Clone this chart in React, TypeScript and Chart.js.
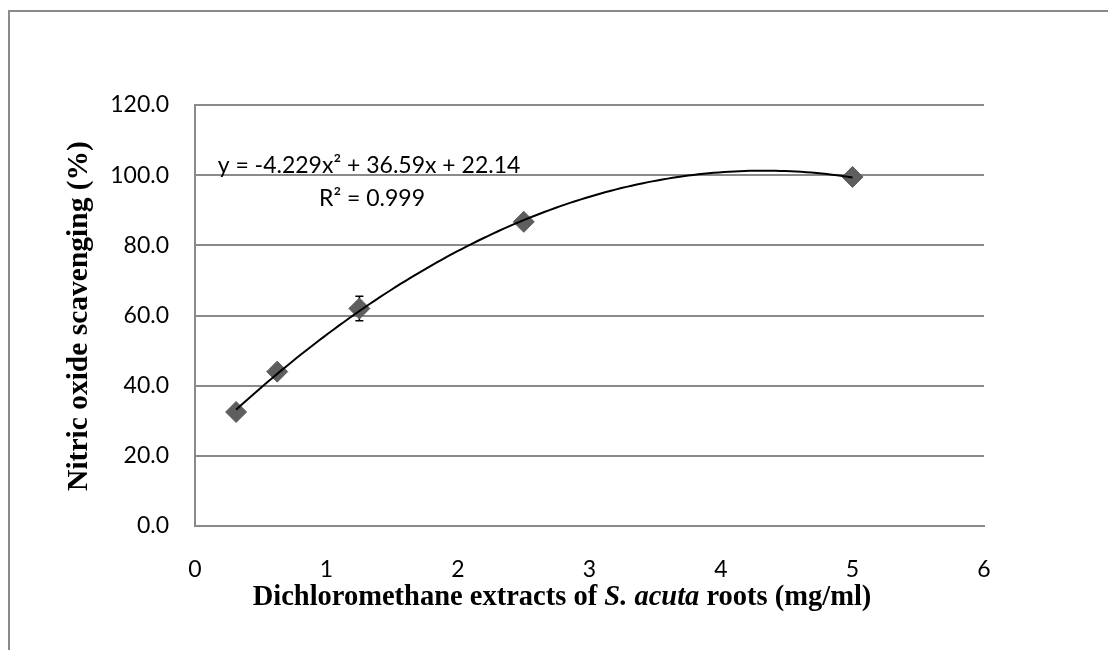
import React, { useEffect, useRef } from "react";
import { Chart, registerables } from "chart.js";

Chart.register(...registerables);

// Data
const concentrations = [0.3125, 0.625, 1.25, 2.5, 5];
const scavenging = [32.5, 44.0, 62.0, 86.7, 99.5];
const errors = [0.6, 0.8, 3.5, 0.7, 0.5];

// Polynomial trendline as printed on the chart
const trendA = -4.229;
const trendB = 36.59;
const trendC = 22.14;
const equationLabel = "y = -4.229x² + 36.59x + 22.14";
const r2Label = "R² = 0.999";

const xTicks = [0, 1, 2, 3, 4, 5, 6];
const yTicks = [0, 20, 40, 60, 80, 100, 120];

const xTitleParts = [
  { text: "Dichloromethane extracts of ", italic: false },
  { text: "S. acuta", italic: true },
  { text: " roots (mg/ml)", italic: false },
];
const yTitle = "Nitric oxide scavenging (%)";

const GRID = "#8a8a8a";
const TICK_FONT = "Lato, 'Open Sans', sans-serif";
const TITLE_FONT = "'Liberation Serif', 'Times New Roman', serif";

function trendPoints() {
  const pts: { x: number; y: number }[] = [];
  const x0 = concentrations[0];
  const x1 = concentrations[concentrations.length - 1];
  const n = 120;
  for (let i = 0; i <= n; i++) {
    const x = x0 + ((x1 - x0) * i) / n;
    pts.push({ x, y: trendA * x * x + trendB * x + trendC });
  }
  return pts;
}

const customPlugin = {
  id: "custom",
  beforeDraw(chart: any) {
    const ctx = chart.ctx;
    ctx.save();
    ctx.fillStyle = "#ffffff";
    ctx.fillRect(0, 0, chart.width, chart.height);
    ctx.strokeStyle = GRID;
    ctx.lineWidth = 2;
    ctx.beginPath();
    ctx.moveTo(9, chart.height + 5);
    ctx.lineTo(9, 11);
    ctx.lineTo(chart.width + 5, 11);
    ctx.stroke();
    ctx.restore();
  },
  beforeDatasetsDraw(chart: any) {
    const ctx = chart.ctx;
    const xs = chart.scales.x;
    const ys = chart.scales.y;
    ctx.save();
    ctx.strokeStyle = "#000000";
    ctx.lineWidth = 1.5;
    concentrations.forEach((c, i) => {
      const px = xs.getPixelForValue(c);
      const top = ys.getPixelForValue(scavenging[i] + errors[i]);
      const bot = ys.getPixelForValue(scavenging[i] - errors[i]);
      ctx.beginPath();
      ctx.moveTo(px, top);
      ctx.lineTo(px, bot);
      ctx.moveTo(px - 4, top);
      ctx.lineTo(px + 4, top);
      ctx.moveTo(px - 4, bot);
      ctx.lineTo(px + 4, bot);
      ctx.stroke();
    });
    ctx.restore();
  },
  afterDraw(chart: any) {
    const ctx = chart.ctx;
    ctx.save();
    ctx.fillStyle = "#000000";
    // trendline equation
    ctx.font = `23px ${TICK_FONT}`;
    ctx.textAlign = "center";
    ctx.textBaseline = "middle";
    ctx.fillText(equationLabel, 369, 166);
    ctx.fillText(r2Label, 372, 199);

    // x title with mixed styles
    ctx.textAlign = "left";
    const fonts = xTitleParts.map(
      (p) => `${p.italic ? "italic " : ""}bold 28.5px ${TITLE_FONT}`
    );
    let total = 0;
    const widths = xTitleParts.map((p, i) => {
      ctx.font = fonts[i];
      const w = ctx.measureText(p.text).width;
      total += w;
      return w;
    });
    let x = 562 - total / 2;
    xTitleParts.forEach((p, i) => {
      ctx.font = fonts[i];
      ctx.fillText(p.text, x, 598);
      x += widths[i];
    });

    // y title
    ctx.translate(79, 316);
    ctx.rotate(-Math.PI / 2);
    ctx.textAlign = "center";
    ctx.font = `bold 29.5px ${TITLE_FONT}`;
    ctx.fillText(yTitle, 0, 0);
    ctx.restore();
  },
};

export default function App() {
  const ref = useRef<HTMLCanvasElement | null>(null);

  useEffect(() => {
    if (!ref.current) return;
    const chart = new Chart(ref.current, {
      type: "scatter",
      data: {
        datasets: [
          {
            label: "Trend",
            data: trendPoints(),
            showLine: true,
            borderColor: "#000000",
            borderWidth: 2,
            pointRadius: 0,
            tension: 0,
            order: 1,
          },
          {
            label: "NO scavenging",
            data: concentrations.map((c, i) => ({ x: c, y: scavenging[i] })),
            pointStyle: "rectRot",
            pointRadius: 10.5,
            backgroundColor: "#5e5e5e",
            borderColor: "#5e5e5e",
            borderWidth: 1,
            order: 2,
          },
        ],
      },
      options: {
        responsive: false,
        animation: false,
        layout: { padding: { left: 0, top: 105, right: 124, bottom: 0 } },
        plugins: {
          legend: { display: false },
          tooltip: { enabled: false },
        },
        scales: {
          x: {
            type: "linear",
            min: 0,
            max: 6,
            afterBuildTicks: (scale: any) => {
              scale.ticks = xTicks.map((v) => ({ value: v }));
            },
            afterFit: (scale: any) => {
              scale.height = 124;
            },
            grid: { display: false, drawTicks: false },
            border: { display: true, color: GRID, width: 2 },
            ticks: {
              color: "#000000",
              font: { family: TICK_FONT, size: 23 },
              padding: 30,
              maxRotation: 0,
              callback: (v: any) => String(v),
            },
          },
          y: {
            type: "linear",
            min: 0,
            max: 120,
            afterBuildTicks: (scale: any) => {
              scale.ticks = yTicks.map((v) => ({ value: v }));
            },
            afterFit: (scale: any) => {
              scale.width = 195;
            },
            grid: { color: GRID, lineWidth: 2, drawTicks: false },
            border: { display: true, color: GRID, width: 2 },
            ticks: {
              color: "#000000",
              font: { family: TICK_FONT, size: 23 },
              padding: 26,
              callback: (v: any) => Number(v).toFixed(1),
            },
          },
        },
      },
      plugins: [customPlugin],
    });
    return () => chart.destroy();
  }, []);

  return (
    <div style={{ position: "fixed", left: 0, top: 0, width: 1108, height: 650, background: "#fff" }}>
      <canvas ref={ref} width={1108} height={650} style={{ display: "block" }} />
    </div>
  );
}
